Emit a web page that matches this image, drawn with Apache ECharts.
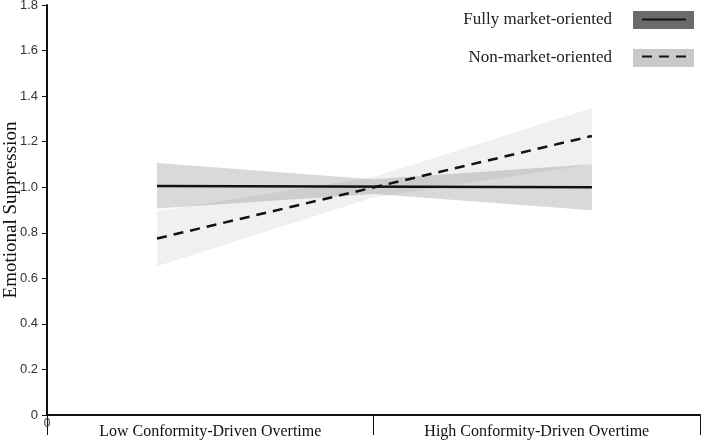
<!DOCTYPE html>
<html>
<head>
<meta charset="utf-8">
<script src="https://cdn.jsdelivr.net/npm/echarts@6/dist/echarts.min.js"></script>
<style>
  html, body { margin: 0; padding: 0; background: #fff; }
  #chart { width: 702px; height: 442px; }
</style>
</head>
<body>
<div id="chart"></div>
<script>
// x categories (labels only) and positions of the estimates on a 0..2 scale
const categories = ['Low Conformity-Driven Overtime', 'High Conformity-Driven Overtime'];
const lineX = [0.337, 1.669];
const bandX = [0.337, 1.0, 1.669];

// estimated values
const fullyLine = [1.005, 1.0];
const nonLine = [0.775, 1.225];
const fullyLower = [0.907, 0.97, 0.899];
const fullyUpper = [1.106, 1.035, 1.101];
const nonLower = [0.653, 0.955, 1.101];
const nonUpper = [0.895, 1.045, 1.348];

const serif = '"Liberation Serif", "DejaVu Serif", serif';
const sans = '"Liberation Sans", Arial, sans-serif';

function pairs(xs, ys) {
    return xs.map((x, i) => [x, ys[i]]);
}

// confidence band drawn as one polygon through the axis scales
function band(name, lower, upper, fill) {
    return {
        name: name,
        type: 'custom',
        xAxisIndex: 0,
        silent: true,
        itemStyle: { color: fill },
        encode: { x: 0, y: 1 },
        data: [[bandX[0], lower[0]]],
        renderItem: function(params, api) {
            const top = bandX.map((x, i) => api.coord([x, upper[i]]));
            const bottom = bandX.map((x, i) => api.coord([x, lower[i]])).reverse();
            return {
                type: 'polygon',
                shape: { points: top.concat(bottom) },
                style: { fill: fill }
            };
        }
    };
}

const chart = echarts.init(document.getElementById('chart'));

const legendBase = {
    orient: 'vertical',
    top: 11,
    padding: 0,
    itemHeight: 18,
    itemGap: 20,
    selectedMode: false,
    align: 'right',
    textStyle: { fontFamily: serif, fontSize: 17, color: '#222', padding: [0, 16, 0, 0] }
};

const option = {
    animation: false,
    grid: { left: 47, right: 2, top: 5, bottom: 27, containLabel: false, outerBoundsMode: 'none' },
    legend: [
        Object.assign({}, legendBase, {
            right: 8,
            itemWidth: 61,
            icon: 'rect',
            data: [
                { name: 'Fully market-oriented', itemStyle: { color: '#6b6b6b' } },
                { name: 'Non-market-oriented', itemStyle: { color: '#c9c9c9' } }
            ]
        }),
        Object.assign({}, legendBase, {
            right: 15,
            itemWidth: 44,
            itemStyle: { opacity: 0 },
            textStyle: Object.assign({}, legendBase.textStyle, { color: 'rgba(0,0,0,0)' }),
            data: ['Fully market-oriented line', 'Non-market-oriented line']
        })
    ],
    xAxis: [{
        type: 'value',
        min: 0,
        max: 2,
        interval: 2,
        axisLine: { show: false },
        axisTick: { show: false },
        splitLine: { show: false },
        axisLabel: {
            margin: 3,
            fontFamily: sans,
            fontSize: 12,
            color: '#333',
            formatter: v => (v === 0 ? '0' : '')
        }
    }, {
        type: 'category',
        position: 'bottom',
        data: categories,
        boundaryGap: true,
        axisLine: { show: true, lineStyle: { color: '#111', width: 2 } },
        axisTick: { show: true, length: 20, lineStyle: { color: '#111', width: 1 } },
        axisLabel: { margin: 9, fontFamily: serif, fontSize: 16, color: '#111' },
        splitLine: { show: false }
    }],
    yAxis: {
        type: 'value',
        min: 0,
        max: 1.8,
        interval: 0.2,
        name: 'Emotional Suppression',
        nameLocation: 'middle',
        nameGap: 26,
        nameMoveOverlap: false,
        nameTextStyle: { fontFamily: serif, fontSize: 19, color: '#111' },
        axisLine: { show: true, lineStyle: { color: '#111', width: 2 } },
        axisTick: { show: true, length: 5, lineStyle: { color: '#111' } },
        splitLine: { show: false },
        axisLabel: {
            margin: 9,
            fontFamily: sans,
            fontSize: 13,
            color: '#333',
            formatter: v => (v === 0 ? '0' : v.toFixed(1))
        }
    },
    series: [
        band('Fully market-oriented', fullyLower, fullyUpper, 'rgba(0,0,0,0.15)'),
        band('Non-market-oriented', nonLower, nonUpper, 'rgba(0,0,0,0.06)'),
        {
            name: 'Fully market-oriented line',
            type: 'line',
            data: pairs(lineX, fullyLine),
            symbol: 'none',
            itemStyle: { color: '#111' },
            lineStyle: { color: '#111', width: 2.5 }
        },
        {
            name: 'Non-market-oriented line',
            type: 'line',
            data: pairs(lineX, nonLine),
            symbol: 'none',
            itemStyle: { color: '#111' },
            lineStyle: { color: '#111', width: 2.5, type: [10, 7] }
        }
    ]
};

chart.setOption(option);
window.addEventListener('resize', function() {
    chart.resize();
});
</script>
</body>
</html>
